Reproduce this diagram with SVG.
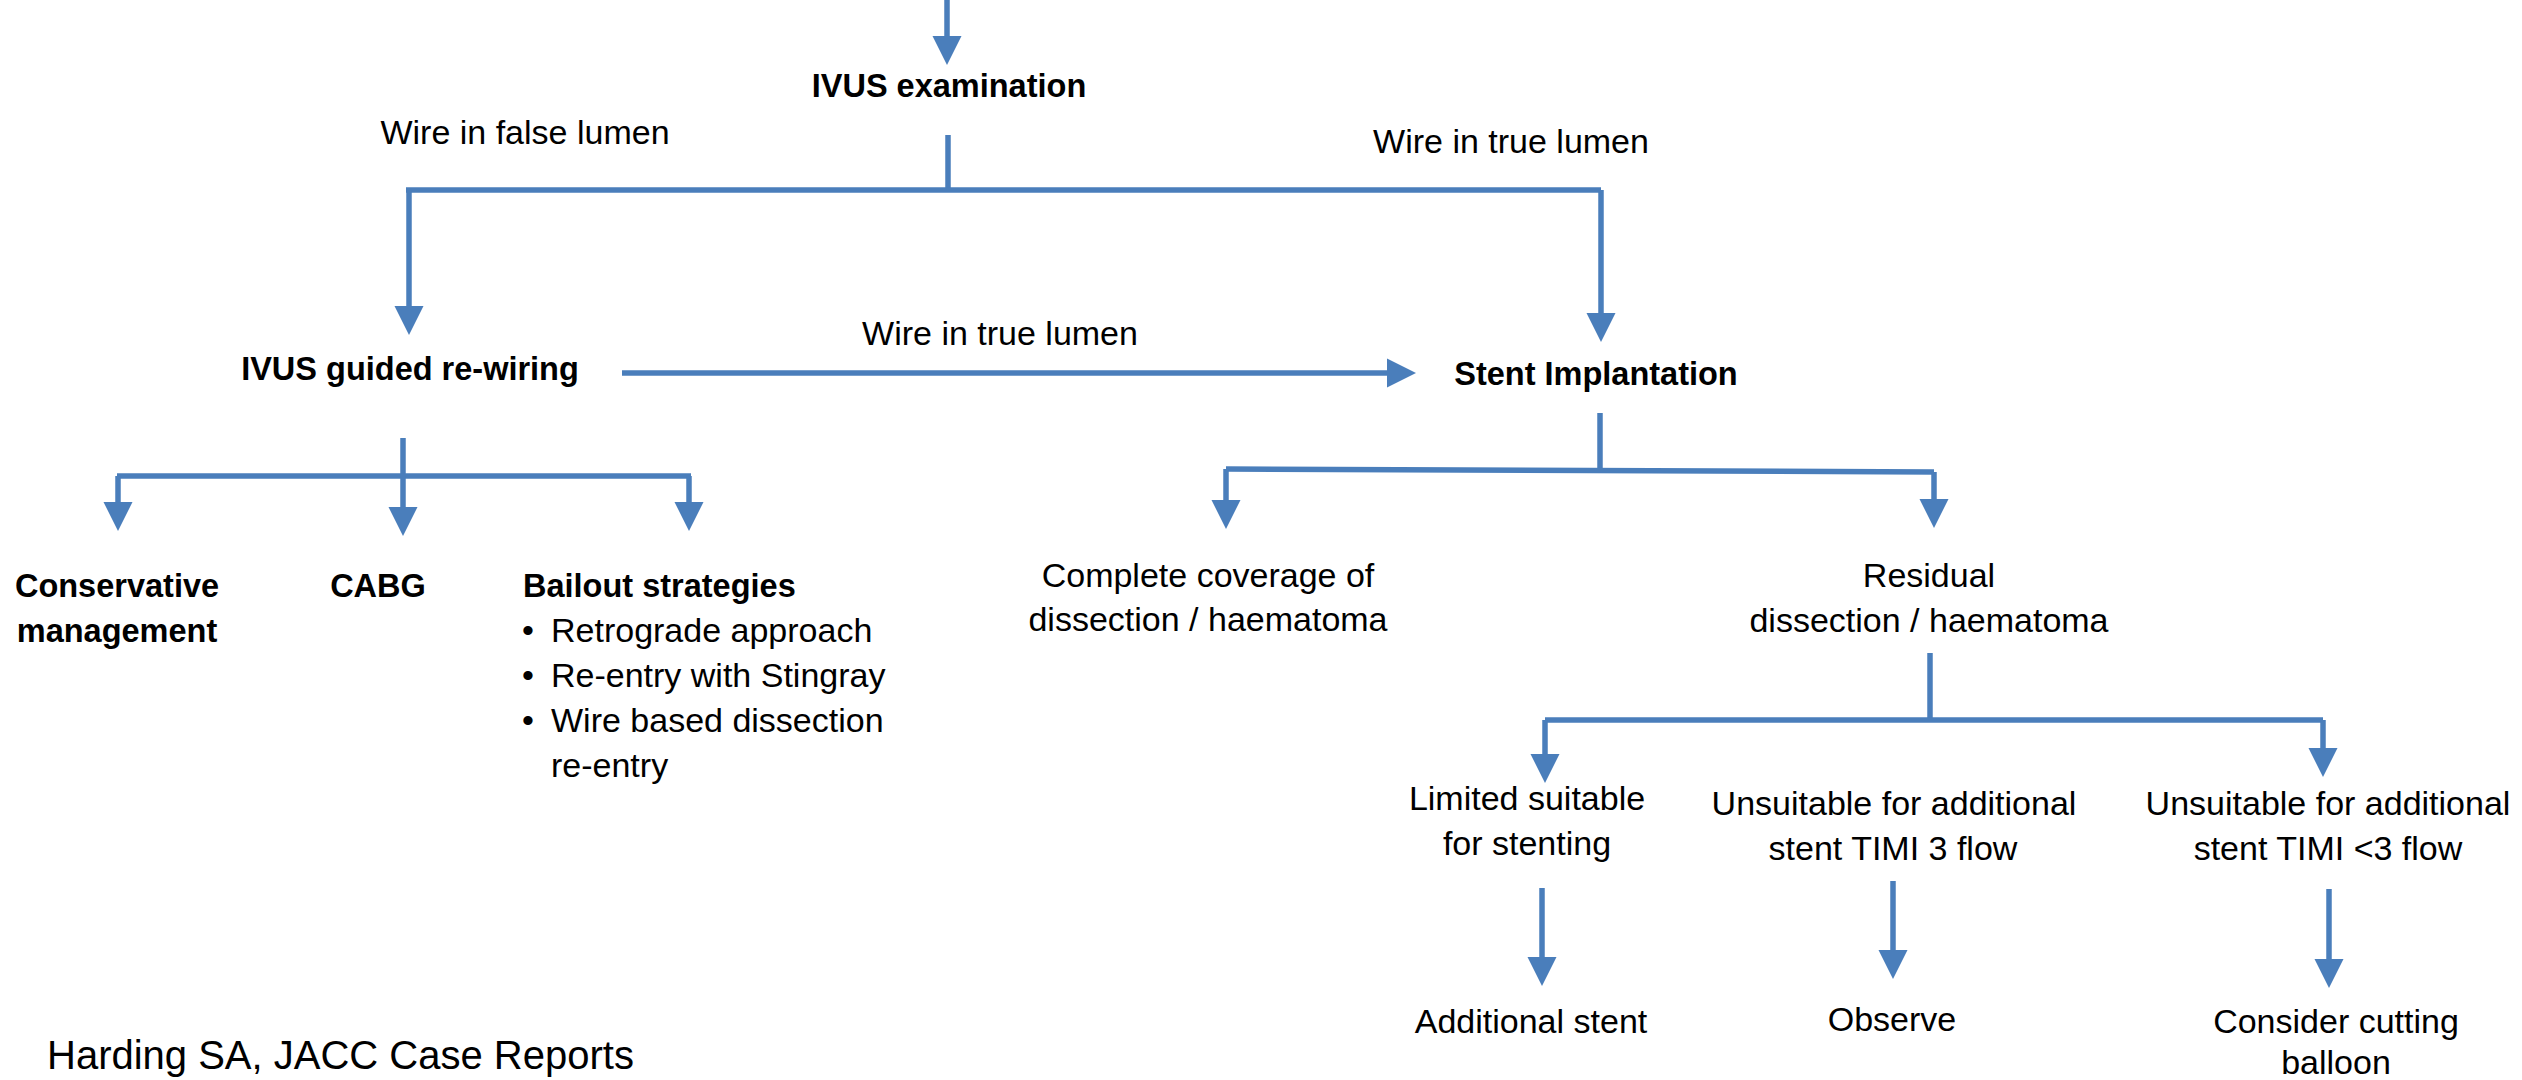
<svg xmlns="http://www.w3.org/2000/svg" width="2522" height="1080" viewBox="0 0 2522 1080">
<style>
text{font-family:"Liberation Sans",Arial,sans-serif;fill:#000}
.r{font-size:34px}
.b{font-size:32.5px;font-weight:bold}
.c{text-anchor:middle}
.ln{stroke:#4A7EBB;stroke-width:5.5;fill:none}
.ar{marker-end:url(#ah)}
</style>
<defs>
<marker id="ah" markerUnits="userSpaceOnUse" markerWidth="30" markerHeight="30" refX="8" refY="14.5" orient="auto" viewBox="0 0 30 29">
<path d="M0,0 L29,14.5 L0,29 Z" fill="#4A7EBB"/>
</marker>
</defs>
<rect width="2522" height="1080" fill="#fff"/>
<g id="connectors">
<line class="ln ar" x1="947" y1="0" x2="947" y2="44"/>
<line class="ln" x1="948" y1="135" x2="948" y2="190"/>
<line class="ln" x1="406" y1="190" x2="1601" y2="190"/>
<line class="ln ar" x1="409" y1="190" x2="409" y2="314"/>
<line class="ln ar" x1="1601" y1="190" x2="1601" y2="321"/>
<line class="ln ar" x1="622" y1="373" x2="1395" y2="373"/>
<line class="ln" x1="403" y1="438" x2="403" y2="476"/>
<line class="ln" x1="117" y1="476" x2="691" y2="476"/>
<line class="ln ar" x1="118" y1="476" x2="118" y2="510"/>
<line class="ln ar" x1="403" y1="476" x2="403" y2="515"/>
<line class="ln ar" x1="689" y1="476" x2="689" y2="510"/>
<line class="ln" x1="1600" y1="413" x2="1600" y2="470"/>
<line class="ln" x1="1226" y1="469" x2="1934" y2="472"/>
<line class="ln ar" x1="1226" y1="469" x2="1226" y2="508"/>
<line class="ln ar" x1="1934" y1="472" x2="1934" y2="507"/>
<line class="ln" x1="1930" y1="653" x2="1930" y2="720"/>
<line class="ln" x1="1545" y1="720" x2="2323" y2="720"/>
<line class="ln ar" x1="1545" y1="720" x2="1545" y2="762"/>
<line class="ln ar" x1="2323" y1="720" x2="2323" y2="756"/>
<line class="ln ar" x1="1542" y1="888" x2="1542" y2="965"/>
<line class="ln ar" x1="1893" y1="881" x2="1893" y2="958"/>
<line class="ln ar" x1="2329" y1="889" x2="2329" y2="967"/>
</g>
<g id="ivus-examination"><text class="b c" x="949" y="97">IVUS examination</text></g>
<g id="label-false-lumen"><text class="r c" x="525" y="144">Wire in false lumen</text></g>
<g id="label-true-lumen-top"><text class="r c" x="1511" y="153">Wire in true lumen</text></g>
<g id="ivus-guided"><text class="b c" x="410" y="380">IVUS guided re-wiring</text></g>
<g id="label-true-lumen-mid"><text class="r c" x="1000" y="345">Wire in true lumen</text></g>
<g id="stent-implantation"><text class="b c" x="1596" y="385">Stent Implantation</text></g>
<g id="conservative"><text class="b c" x="117" y="597">Conservative</text><text class="b c" x="117" y="642">management</text></g>
<g id="cabg"><text class="b c" x="378" y="597">CABG</text></g>
<g id="bailout">
<text class="b" x="523" y="597">Bailout strategies</text>
<text class="r" x="522" y="642">•</text><text class="r" x="551" y="642">Retrograde approach</text>
<text class="r" x="522" y="687">•</text><text class="r" x="551" y="687">Re-entry with Stingray</text>
<text class="r" x="522" y="732">•</text><text class="r" x="551" y="732">Wire based dissection</text>
<text class="r" x="551" y="777">re-entry</text>
</g>
<g id="complete-coverage"><text class="r c" x="1208" y="587">Complete coverage of</text><text class="r c" x="1208" y="631">dissection / haematoma</text></g>
<g id="residual"><text class="r c" x="1929" y="587">Residual</text><text class="r c" x="1929" y="632">dissection / haematoma</text></g>
<g id="limited-suitable"><text class="r c" x="1527" y="810">Limited suitable</text><text class="r c" x="1527" y="855">for stenting</text></g>
<g id="unsuitable-timi3"><text class="r c" x="1894" y="815">Unsuitable for additional</text><text class="r c" x="1893" y="860">stent TIMI 3 flow</text></g>
<g id="unsuitable-timi-lt3"><text class="r c" x="2328" y="815">Unsuitable for additional</text><text class="r c" x="2328" y="860">stent TIMI &lt;3 flow</text></g>
<g id="additional-stent"><text class="r c" x="1531" y="1033">Additional stent</text></g>
<g id="observe"><text class="r c" x="1892" y="1031">Observe</text></g>
<g id="cutting-balloon"><text class="r c" x="2336" y="1033">Consider cutting</text><text class="r c" x="2336" y="1074">balloon</text></g>
<g id="citation"><text x="47" y="1069" style="font-size:40px">Harding SA, JACC Case Reports</text></g>
</svg>
